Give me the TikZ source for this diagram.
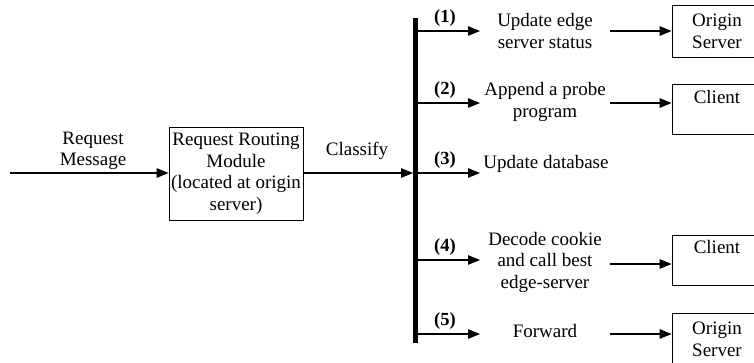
\documentclass[tikz,border=0pt]{standalone}
\usepackage{fontspec}
\setmainfont{Liberation Serif}
\usetikzlibrary{arrows.meta}
\begin{document}
\begin{tikzpicture}[x=1pt,y=-1pt,
  txt/.style={font=\fontsize{19}{21.5}\selectfont, align=center, inner sep=0pt},
  num/.style={font=\fontsize{18.5}{20}\selectfont\bfseries, inner sep=0pt},
  box/.style={draw, line width=0.8pt, inner sep=0pt, font=\fontsize{19}{22}\selectfont, align=center},
  arr/.style={line width=1.1pt, -{Triangle[length=12pt,width=9.5pt]}}]
\useasboundingbox (0,0) rectangle (754,362);
\clip (0,0) rectangle (754,362);
% left part
\node[box, minimum width=134, minimum height=93] (rrm) at (236,173.5) {};
\node[txt] (rrmt) at (236,173.5) {Request Routing\\Module\\(located at origin\\server)};
\node[txt] (reqmsg) at (93,151) {Request\\Message};
\node[txt] (cls) at (357,150.5) {Classify};
\node[fill=black, inner sep=0pt, minimum width=4.5, minimum height=325] (bar) at (415.5,180.5) {};
\coordinate (in) at (10,173);
\draw[arr] (in) -- (rrm.west |- in);
\draw[arr] (rrm.east |- in) -- (bar.west |- in);
% branch labels
\node[num] (n1) at (445,18) {(1)};
\node[num] (n2) at (445,90) {(2)};
\node[num] (n3) at (445,160) {(3)};
\node[num] (n4) at (445,247) {(4)};
\node[num] (n5) at (445,321) {(5)};
% middle texts
\node[txt] (m1) at (545,31) {Update edge\\server status};
\node[txt] (m2) at (545,102) {Append a probe\\program};
\node[txt] (m3) at (546,163.5) {Update database};
\node[txt] (m4) at (545,262) {Decode cookie\\and call best\\edge-server};
\node[txt] (m5) at (545,330.5) {Forward};
% branch arrows
\coordinate (e1) at (480,31);
\coordinate (e2) at (480,103);
\coordinate (e3) at (480,173);
\coordinate (e4) at (480,260);
\coordinate (e5) at (480,334);
\foreach \i in {1,...,5}{\draw[arr] (bar.east |- e\i) -- (e\i);}
% right boxes
\node[box, minimum width=90, minimum height=52] (b1) at (717,31) {Origin\\Server};
\node[box, minimum width=90, minimum height=50] (b2) at (717,109) {};
\node[txt] (b2t) at (717,96.5) {Client};
\node[box, minimum width=90, minimum height=50] (b4) at (717,260) {};
\node[txt] (b4t) at (717,246.5) {Client};
\node[box, minimum width=90, minimum height=52] (b5) at (717,339) {Origin\\Server};
% second arrows
\coordinate (s1) at (610,31);
\coordinate (s2) at (610,103);
\coordinate (s4) at (610,264);
\coordinate (s5) at (610,334);
\draw[arr] (s1) -- (b1.west |- s1);
\draw[arr] (s2) -- (b2.west |- s2);
\draw[arr] (s4) -- (b4.west |- s4);
\draw[arr] (s5) -- (b5.west |- s5);
\end{tikzpicture}
\end{document}
